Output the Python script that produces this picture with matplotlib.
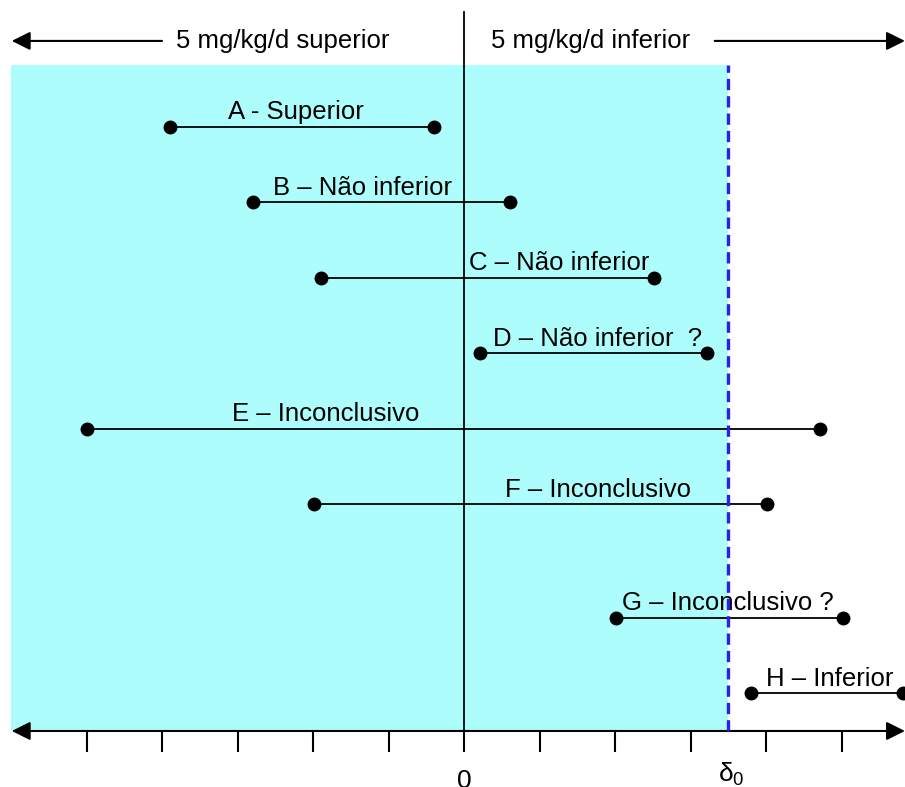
import numpy as np
import matplotlib.pyplot as plt
from matplotlib.patches import Rectangle

plt.rcParams['font.family'] = ['Liberation Sans', 'DejaVu Sans']
plt.rcParams['mathtext.fontset'] = 'custom'
plt.rcParams['mathtext.rm'] = 'Liberation Sans'
plt.rcParams['mathtext.it'] = 'Liberation Sans'

# confidence intervals for the difference (mg/kg/d units)
labels = ["A - Superior", "B \u2013 Não inferior", "C \u2013 Não inferior",
          "D \u2013 Não inferior  ?", "E \u2013 Inconclusivo", "F \u2013 Inconclusivo",
          "G \u2013 Inconclusivo ?", "H \u2013 Inferior"]
lower = [-3.89, -2.79, -1.89, 0.21, -4.99, -1.99, 2.01, 3.80]
upper = [-0.40, 0.61, 2.52, 3.22, 4.72, 4.01, 5.02, 5.81]
rows = [8, 7, 6, 5, 4, 3, 1.5, 0.5]
delta0 = 3.5
ticks = np.arange(-5, 6)

# where each label text starts
label_x = [-3.13, -2.53, 0.07, 0.38, -3.07, 0.54, 2.09, 4.0]

fig = plt.figure(figsize=(9.05, 7.87), dpi=100)
ax = fig.add_axes([0, 0, 1, 1])
ax.set_xlim(-6.146, 5.841)
ax.set_ylim(-0.742, 9.682)
ax.axis('off')

# shaded non-inferiority zone
ax.add_patch(Rectangle((-6.0, 0), delta0 + 6.0, 8.82, facecolor='#adfdfd',
                       edgecolor='none', zorder=0))
ax.plot([delta0, delta0], [0, 8.82], color='#2a1ef0', lw=2.4,
        ls=(0, (3.4, 1.8)), zorder=5)

# horizontal axis with arrows at both ends
ax.annotate('', xy=(-5.99, 0), xytext=(5.84, 0),
            arrowprops=dict(arrowstyle='<|-|>', color='black', lw=1.5,
                            mutation_scale=28, shrinkA=0, shrinkB=0), zorder=3)
ax.vlines(ticks, -0.28, 0, color='black', lw=1.5, zorder=3)
ax.plot([0, 0], [0, 9.52], color='black', lw=1.3, zorder=3)

ax.text(0, -0.66, '0', ha='center', va='center', fontsize=19)
ax.text(delta0 + 0.04, -0.58, r'δ$_{0}$', ha='center', va='center', fontsize=19)

# direction arrows on top
ax.annotate('', xy=(-5.99, 9.14), xytext=(-4.0, 9.14),
            arrowprops=dict(arrowstyle='-|>', color='black', lw=1.5,
                            mutation_scale=28, shrinkA=0, shrinkB=0))
ax.annotate('', xy=(5.84, 9.14), xytext=(3.32, 9.14),
            arrowprops=dict(arrowstyle='-|>', color='black', lw=1.5,
                            mutation_scale=28, shrinkA=0, shrinkB=0))
ax.text(-3.81, 9.14, '5 mg/kg/d superior', ha='left', va='center', fontsize=18.5)
ax.text(0.36, 9.14, '5 mg/kg/d inferior', ha='left', va='center', fontsize=18.5)

# intervals
for lab, lo, hi, y, lx in zip(labels, lower, upper, rows, label_x):
    ax.plot([lo, hi], [y, y], color='black', lw=1.3, marker='o', ms=9,
            zorder=4, clip_on=False)
    ax.text(lx, y + 0.1, lab, ha='left', va='baseline', fontsize=18.5, zorder=4)

plt.savefig('out.png', dpi=100)
plt.close()
